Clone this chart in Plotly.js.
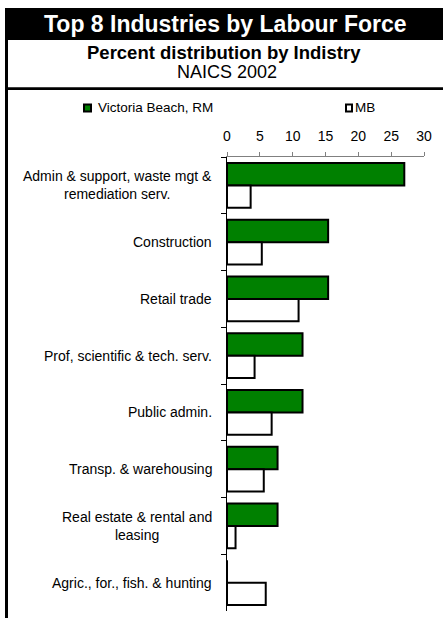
<!DOCTYPE html>
<html>
<head>
<meta charset="utf-8">
<script src="https://cdn.plot.ly/plotly-3.0.1.min.js"></script>
<style>
html,body{margin:0;padding:0;background:#fff;}
#chart{width:443px;height:618px;}
</style>
</head>
<body>
<div id="chart"></div>
<script>
// ---- data ----
const categories = [
  "Admin & support, waste mgt &<br>remediation serv.",
  "Construction",
  "Retail trade",
  "Prof, scientific & tech. serv.",
  "Public admin.",
  "Transp. & warehousing",
  "Real estate & rental and<br>leasing",
  "Agric., for., fish. & hunting"
];
const victoriaBeach = [27.0, 15.4, 15.4, 11.5, 11.5, 7.7, 7.7, 0];
const mb = [3.6, 5.3, 10.9, 4.2, 6.8, 5.6, 1.3, 5.9];
const seriesNames = ["Victoria Beach, RM", "MB"];
const xTicks = [0, 5, 10, 15, 20, 25, 30];
const titleText = "Top 8 Industries by Labour Force";
const subtitleText = "Percent distribution by Indistry";
const subtitle2Text = "NAICS 2002";

// ---- layout geometry (pixels) ----
const W = 443, H = 618;
const mL = 227, mR = 19, mT = 157, mB = 7;
const pw = W - mL - mR, ph = H - mT - mB;
const px = x => (x - mL) / pw;
const py = y => (H - mB - y) / ph;
const FONT = "Liberation Sans";

const traces = [
  {
    type: "bar", orientation: "h", name: seriesNames[0],
    y: categories, x: victoriaBeach,
    marker: {color: "#008000", line: {color: "#000000", width: 2}},
    hoverinfo: "x"
  },
  {
    type: "bar", orientation: "h", name: seriesNames[1],
    y: categories, x: mb,
    marker: {color: "#ffffff", line: {color: "#000000", width: 2}},
    hoverinfo: "x"
  }
];

const shapes = [
  {type: "rect", xref: "paper", yref: "paper", x0: px(5), x1: px(443), y0: py(8), y1: py(40),
   fillcolor: "#000000", line: {width: 0}, layer: "below"},
  {type: "line", xref: "paper", yref: "paper", x0: px(6.5), x1: px(6.5), y0: py(8), y1: py(618),
   line: {color: "#000000", width: 3}},
  {type: "line", xref: "paper", yref: "paper", x0: px(5), x1: px(443), y0: py(88.7), y1: py(88.7),
   line: {color: "#000000", width: 2.7}},
  {type: "rect", xref: "paper", yref: "paper", x0: px(84), x1: px(91), y0: py(104.5), y1: py(111.5),
   fillcolor: "#008000", line: {color: "#000000", width: 2}},
  {type: "rect", xref: "paper", yref: "paper", x0: px(346), x1: px(352), y0: py(104.5), y1: py(111.5),
   fillcolor: "#ffffff", line: {color: "#000000", width: 2}}
];

const annotations = [
  {text: "<b>" + titleText + "</b>", xref: "paper", yref: "paper", x: px(225), y: py(23.5),
   xanchor: "center", yanchor: "middle", showarrow: false,
   font: {family: FONT, size: 23, color: "#ffffff"}},
  {text: "<b>" + subtitleText + "</b>", xref: "paper", yref: "paper", x: px(224), y: py(52.5),
   xanchor: "center", yanchor: "middle", showarrow: false,
   font: {family: FONT, size: 18.5, color: "#000000"}},
  {text: subtitle2Text, xref: "paper", yref: "paper", x: px(227), y: py(72.5),
   xanchor: "center", yanchor: "middle", showarrow: false,
   font: {family: FONT, size: 18, color: "#000000"}},
  {text: seriesNames[0], xref: "paper", yref: "paper", x: px(96), y: py(108),
   xanchor: "left", yanchor: "middle", showarrow: false,
   font: {family: FONT, size: 13.5, color: "#000000"}},
  {text: seriesNames[1], xref: "paper", yref: "paper", x: px(353), y: py(108),
   xanchor: "left", yanchor: "middle", showarrow: false,
   font: {family: FONT, size: 13.5, color: "#000000"}}
];

categories.forEach(c => {
  annotations.push({
    text: c, xref: "paper", yref: "y", x: 0, y: c, xshift: -13,
    xanchor: "right", yanchor: "middle", align: "center", showarrow: false,
    font: {family: FONT, size: 14, color: "#000000"}
  });
});

const layout = {
  width: W, height: H,
  margin: {l: mL, r: mR, t: mT, b: mB, pad: 0},
  paper_bgcolor: "#ffffff", plot_bgcolor: "#ffffff",
  barmode: "group", bargap: 0.21, bargroupgap: 0,
  showlegend: false,
  font: {family: FONT, size: 14, color: "#000000"},
  xaxis: {
    side: "top", range: [0, 30], tickvals: xTicks, ticktext: xTicks.map(String),
    showgrid: false, zeroline: false,
    showline: true, linecolor: "#808080", linewidth: 1.5,
    ticks: "outside", ticklen: 4, tickcolor: "#808080", tickwidth: 1,
    ticklabelstandoff: 5,
    tickfont: {family: FONT, size: 14, color: "#000000"},
    fixedrange: true
  },
  yaxis: {
    type: "category", autorange: "reversed",
    showgrid: false, zeroline: false,
    showline: true, linecolor: "#000000", linewidth: 1.5,
    ticks: "outside", ticklen: 5, tickcolor: "#000000", tickwidth: 1,
    tickson: "boundaries",
    showticklabels: false,
    fixedrange: true
  },
  shapes: shapes,
  annotations: annotations
};

Plotly.newPlot("chart", traces, layout, {displayModeBar: false, staticPlot: true});
</script>
</body>
</html>
